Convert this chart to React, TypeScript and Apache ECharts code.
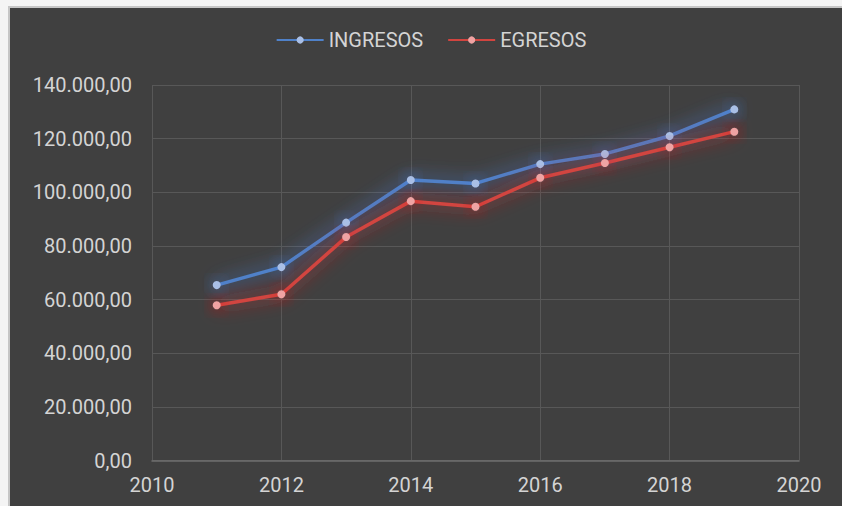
import React, { useEffect, useRef } from "react";
import * as echarts from "echarts";

const years = [2011, 2012, 2013, 2014, 2015, 2016, 2017, 2018, 2019];
const ingresos = [65400, 72100, 88700, 104600, 103300, 110500, 114300, 121000, 130900];
const egresos = [57900, 62000, 83300, 96700, 94600, 105400, 110900, 116800, 122600];
const seriesNames = ["INGRESOS", "EGRESOS"];

const fmt = (v: number) => {
  const s = Math.round(v).toString().replace(/\B(?=(\d{3})+(?!\d))/g, ".");
  return s + ",00";
};

export default function App() {
  const ref = useRef<HTMLDivElement>(null);
  useEffect(() => {
    if (!ref.current) return;
    const chart = echarts.init(ref.current, null, { renderer: "svg" });
    const textColor = "#d4d4d4";
    const font = "Roboto";
    const mk = (name: string, vals: number[], line: string, glow: string, dot: string) => ({
      name,
      type: "line",
      data: years.map((y, i) => [y, vals[i]]),
      symbol: "circle",
      symbolSize: 8,
      showSymbol: true,
      lineStyle: { color: line, width: 3.5, shadowBlur: 18, shadowColor: glow },
      itemStyle: { color: dot, borderWidth: 0, shadowBlur: 16, shadowColor: glow },
      z: 3,
    });
    chart.setOption({
      animation: false,
      backgroundColor: "#404040",
      textStyle: { fontFamily: font },
      legend: {
        top: 17,
        left: "center",
        itemWidth: 47,
        itemHeight: 9,
        itemGap: 24,
        textStyle: { color: textColor, fontSize: 20, fontFamily: font },
        data: seriesNames,
      },
      grid: { left: 142, top: 77, width: 647, height: 375.5, containLabel: false },
      xAxis: {
        type: "value",
        min: 2010,
        max: 2020,
        interval: 2,
        axisLine: { show: true, lineStyle: { color: "#6e6e6e", width: 1.5 } },
        axisTick: { show: false },
        splitLine: { show: true, lineStyle: { color: "#585858", width: 1 } },
        axisLabel: { color: textColor, fontSize: 20, fontFamily: font, margin: 14, formatter: (v: number) => String(v) },
      },
      yAxis: {
        type: "value",
        min: 0,
        max: 140000,
        interval: 20000,
        axisLine: { show: false },
        axisTick: { show: false },
        splitLine: { show: true, lineStyle: { color: "#585858", width: 1 } },
        axisLabel: { color: textColor, fontSize: 20, fontFamily: font, margin: 20, formatter: (v: number) => fmt(v) },
      },
      series: [
        mk(seriesNames[0], ingresos, "#4f81c9", "rgba(70,135,240,1)", "#a9bfe6"),
        mk(seriesNames[1], egresos, "#d2443f", "rgba(235,40,40,1)", "#f0a3a3"),
      ],
    });
    return () => chart.dispose();
  }, []);
  return (
    <div style={{ position: "fixed", left: 0, top: 0, width: 842, height: 506, overflow: "hidden", background: "#f4f4f4" }}>
      <div style={{ position: "absolute", left: 8, top: 6, width: 842, height: 506, border: "2px solid #c6c6c6", boxSizing: "content-box" }}>
        <div ref={ref} style={{ width: 842, height: 506 }} />
      </div>
    </div>
  );
}
